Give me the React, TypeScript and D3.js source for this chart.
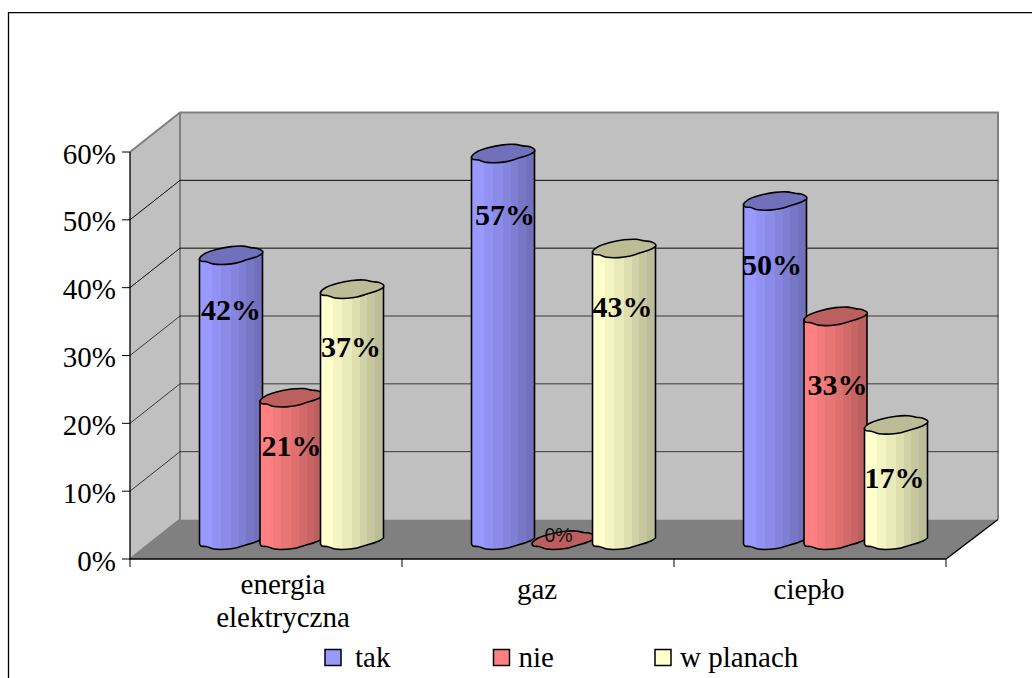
import React from "react";
import * as d3 from "d3";

// Survey shares per energy carrier, in percent
const categories = ["energia elektryczna", "gaz", "ciepło"];
const seriesNames = ["tak", "nie", "w planach"];
const tak = [42, 57, 50];
const nie = [21, 0, 33];
const wPlanach = [37, 43, 17];
const yTicks = [0, 10, 20, 30, 40, 50, 60];

const seriesValues = [tak, nie, wPlanach];

const face = ["#9999ff", "#ff8080", "#ffffcc"];
const shade = ["#7070bb", "#bc5f5f", "#bcbc96"];
const serif = "'Liberation Serif', 'DejaVu Serif', serif";
const textSize = 29;

// Oblique projection of the 3-D box: back wall sits up and to the right of the front plane
const depthX = 50;
const depthY = 39.5;
const x0 = 130;
const x1 = 946;
const yBase = 559;
const yTop = 152;

const xBand = d3.scaleBand<string>().domain(categories).range([x0, x1]);
const yScale = d3.scaleLinear().domain([0, 60]).range([yBase, yTop]);

const barStep = 60.5;
const barHalf = 31.5;
const barShiftX = 25.5;
const barShiftY = 19;

// Outline of a cylinder cap, relative to its centre; the first half is the rear rim
const rearRim: [number, number][] = [
  [-31.5, 3.5], [-27, -1], [-15, -5.5], [0, -8.5], [12, -9], [20, -7.5], [27, -6.5], [31.5, -4],
];
const frontRim: [number, number][] = [
  [31.5, -2], [27, 1], [15, 5], [5, 8], [-5, 9.3], [-17, 9], [-25, 6.5], [-30, 6],
];

const capPath = d3.line().curve(d3.curveCatmullRomClosed.alpha(0.5));
const rimPath = d3.line().curve(d3.curveCatmullRom.alpha(0.5));

// Placement of the value labels: distance below each cylinder's top, and sideways nudge
const labelDrop = [
  [65, 58, 68],
  [72, 0, 69],
  [74, 79, 63],
];
const labelNudge = [
  [0, 0, -1],
  [2, -5, -1.5],
  [-3, 2, -1.5],
];

const bandStops = [0, 0.2, 0.34, 0.5, 0.62, 0.74, 0.86, 1];

function BandGradient({ id, from, to }: { id: string; from: string; to: string }) {
  const mix = d3.interpolateRgb(from, to);
  return (
    <linearGradient id={id} x1="0" x2="1" y1="0" y2="0">
      {bandStops.slice(0, -1).map((s, i) => {
        const c = mix(i / (bandStops.length - 2));
        return (
          <React.Fragment key={i}>
            <stop offset={s} stopColor={c} />
            <stop offset={bandStops[i + 1]} stopColor={c} />
          </React.Fragment>
        );
      })}
    </linearGradient>
  );
}

function Cylinder({ cx, value, s }: { cx: number; value: number; s: number }) {
  const top = yScale(value) - barShiftY;
  const base = yScale(0) - barShiftY;
  const at = (pts: [number, number][], cy: number) =>
    pts.map(([dx, dy]) => [cx + dx, cy + dy] as [number, number]);
  const cap = capPath(at([...rearRim, ...frontRim], top))!;
  const lower = at([...frontRim].reverse(), base);
  const bodyPath =
    `M${cx - barHalf},${top + 3.5} L${cx - barHalf},${base + 4} ` +
    rimPath([[cx - barHalf, base + 4], ...lower, [cx + barHalf, base - 2]])!.replace(/^M[^A-Z]*/, "") +
    ` L${cx + barHalf},${top - 3} Z`;
  return (
    <g stroke="#000" strokeWidth={1.6} strokeLinejoin="round">
      {value > 0 && <path d={bodyPath} fill={`url(#band${s})`} />}
      <path d={cap} fill={shade[s]} />
    </g>
  );
}

export default function App() {
  const backX0 = x0 + depthX;
  const backX1 = x1 + 52;
  const backBase = yBase - depthY;
  const backTop = yTop - depthY;

  return (
    <svg
      width={1032}
      height={678}
      style={{ position: "absolute", left: 0, top: 0, background: "#fff" }}
    >
      <defs>
        {face.map((c, i) => (
          <BandGradient key={i} id={`band${i}`} from={c} to={shade[i]} />
        ))}
      </defs>

      {/* Outer frame: left and top edges only */}
      <path d="M8.5,678 V12.7 H1032" fill="none" stroke="#000" strokeWidth={1.3} />

      {/* Walls and floor */}
      <polygon
        points={`${x0},${yBase} ${x0},${yTop} ${backX0},${backTop} ${backX0},${backBase}`}
        fill="#c0c0c0"
      />
      <rect x={backX0} y={backTop} width={backX1 - backX0} height={backBase - backTop} fill="#c0c0c0" />
      <polygon
        points={`${x0},${yBase} ${backX0},${backBase} ${backX1},${backBase} ${x1},${yBase}`}
        fill="#808080"
      />
      <path
        d={`M${x0},${yTop} L${backX0},${backTop} H${backX1} V${backBase} M${backX0},${backTop} V${backBase} L${x0},${yBase}`}
        fill="none"
        stroke="#808080"
        strokeWidth={2}
      />

      {/* Gridlines run along the side wall and across the back */}
      {yTicks.slice(1, -1).map((t) => {
        const y = yScale(t);
        return (
          <path
            key={t}
            d={`M${x0},${y} L${backX0},${y - depthY} H${backX1}`}
            fill="none"
            stroke="#000"
            strokeWidth={1}
            strokeOpacity={t >= 40 ? 0.95 : 0.7}
          />
        );
      })}

      {/* Front axes */}
      <path
        d={`M${x0},${yTop} V${yBase} H${x1} L${backX1},${backBase}`}
        fill="none"
        stroke="#000"
        strokeWidth={1.3}
      />
      {yTicks.map((t) => (
        <g key={t}>
          <line x1={x0 - 8} x2={x0} y1={yScale(t)} y2={yScale(t)} stroke="#000" strokeWidth={1} />
          <text
            x={116}
            y={yScale(t) + 11.5}
            textAnchor="end"
            fontFamily={serif}
            fontSize={textSize}
            fill="#000"
          >
            {t}%
          </text>
        </g>
      ))}
      {[...categories.map((c) => xBand(c)!), x1].map((x) => (
        <line key={x} x1={x} x2={x} y1={yBase} y2={yBase + 8} stroke="#000" strokeWidth={1} />
      ))}

      {/* Category labels; the first one wraps onto two lines */}
      <text x={283} y={594} textAnchor="middle" fontFamily={serif} fontSize={textSize} fill="#000">
        {categories[0].split(" ")[0]}
      </text>
      <text x={283} y={627} textAnchor="middle" fontFamily={serif} fontSize={textSize} fill="#000">
        {categories[0].split(" ")[1]}
      </text>
      <text x={537} y={598.5} textAnchor="middle" fontFamily={serif} fontSize={textSize} fill="#000">
        {categories[1]}
      </text>
      <text x={809} y={598.5} textAnchor="middle" fontFamily={serif} fontSize={textSize} fill="#000">
        {categories[2]}
      </text>

      {/* Cylinders, painted series by series so the later ones overlap */}
      {categories.map((c, ci) => {
        const centre = xBand(c)! + xBand.bandwidth() / 2 + barShiftX;
        return (
          <g key={c}>
            {seriesValues.map((vals, s) => (
              <Cylinder key={s} cx={centre + (s - 1) * barStep} value={vals[ci]} s={s} />
            ))}
          </g>
        );
      })}

      {/* Value labels */}
      {categories.map((c, ci) => {
        const centre = xBand(c)! + xBand.bandwidth() / 2 + barShiftX;
        return seriesValues.map((vals, s) => {
          const v = vals[ci];
          const cx = centre + (s - 1) * barStep + labelNudge[ci][s];
          const y = yScale(v) - barShiftY + labelDrop[ci][s];
          return v === 0 ? (
            <text
              key={s}
              x={cx}
              y={yScale(0) - 17}
              textAnchor="middle"
              fontFamily="'Liberation Sans', sans-serif"
              fontSize={19.5}
              fill="#111"
            >
              {v}%
            </text>
          ) : (
            <text
              key={s}
              x={cx}
              y={y}
              textAnchor="middle"
              fontFamily={serif}
              fontWeight="bold"
              fontSize={30}
              fill="#000"
            >
              {v}%
            </text>
          );
        });
      })}

      {/* Legend */}
      {seriesNames.map((name, i) => {
        const sx = [325, 493.5, 655][i];
        return (
          <g key={name}>
            <rect x={sx} y={649.5} width={16} height={16} fill={face[i]} stroke="#000" strokeWidth={1.5} />
            <text x={sx + (i === 0 ? 30 : 25)} y={667} fontFamily={serif} fontSize={textSize} fill="#000">
              {name}
            </text>
          </g>
        );
      })}
    </svg>
  );
}
